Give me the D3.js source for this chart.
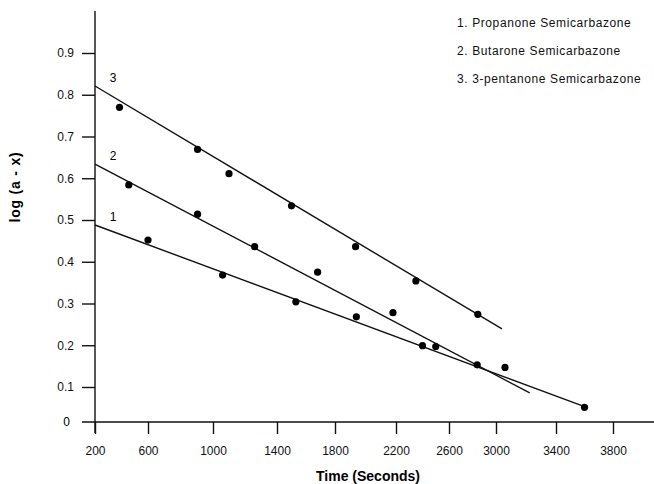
<!DOCTYPE html>
<html>
<head>
<meta charset="utf-8">
<script src="https://cdn.jsdelivr.net/npm/d3@7"></script>
<style>
  body { margin: 0; background: #fff; }
  svg { display: block; font-family: "Liberation Sans", Arial, sans-serif; }
  .axis text { font-size: 12px; fill: #111; }
  .axis line { stroke: #111; stroke-width: 1.4; }
</style>
</head>
<body>
<div id="chart"></div>
<script>
// tick labels
const xTicks = [200, 600, 1000, 1400, 1800, 2200, 2600, 3000, 3400, 3800];
const yTicks = [0, 0.1, 0.2, 0.3, 0.4, 0.5, 0.6, 0.7, 0.8, 0.9];

// measured points (time in s, log(a - x))
const s1Time = [600, 1060, 1530, 1940, 2400, 2840, 3600];
const s1Log  = [0.452, 0.368, 0.304, 0.268, 0.199, 0.153, 0.042];
const s2Time = [455, 905, 1260, 1680, 2180, 2500, 3060];
const s2Log  = [0.584, 0.514, 0.436, 0.375, 0.278, 0.197, 0.147];
const s3Time = [385, 905, 1100, 1500, 1935, 2350, 2845];
const s3Log  = [0.770, 0.669, 0.611, 0.534, 0.436, 0.354, 0.274];

// fitted straight lines (start / end)
const fitTime = [[200, 3605], [200, 3225], [200, 3040]];
const fitLog  = [[0.488, 0.043], [0.634, 0.083], [0.821, 0.239]];

const seriesNames = ["1. Propanone Semicarbazone", "2. Butarone Semicarbazone", "3. 3-pentanone Semicarbazone"];

const W = 654, H = 484;

const svg = d3.select("#chart").append("svg")
    .attr("width", W)
    .attr("height", H);

// the printed time axis is not evenly spaced, so the scale follows its ticks
const x = d3.scaleLinear()
    .domain(xTicks)
    .range([95, 148, 213, 277, 335, 396, 449, 496, 556, 613]);
const y = d3.scaleLinear()
    .domain([0, 0.1, 0.9])
    .range([422, 387, 53]);

// axes
const yAxis = svg.append("g")
    .attr("class", "axis")
    .attr("transform", "translate(" + x(200) + ",0)")
    .call(d3.axisLeft(y).tickValues(yTicks.filter(d => d > 0)).tickSizeInner(13).tickSizeOuter(0).tickPadding(8)
        .tickFormat(d3.format(".1f")));
yAxis.select(".domain").remove();
yAxis.append("line").attr("x1", 0).attr("x2", 0).attr("y1", 11).attr("y2", 433);
svg.append("text")
    .attr("x", 70).attr("y", y(0))
    .attr("dy", "0.35em")
    .attr("text-anchor", "end")
    .attr("font-size", "12px")
    .text("0");

const xAxis = svg.append("g")
    .attr("class", "axis")
    .attr("transform", "translate(0," + y(0) + ")")
    .call(d3.axisBottom(x).tickValues(xTicks).tickSizeInner(12).tickSizeOuter(0).tickPadding(12)
        .tickFormat(d3.format("d")));
xAxis.select(".domain").remove();
xAxis.append("line").attr("x1", 82).attr("x2", W).attr("y1", 0).attr("y2", 0);

// axis titles
svg.append("text")
    .attr("x", 368).attr("y", 481)
    .attr("text-anchor", "middle")
    .attr("font-size", "14px")
    .attr("font-weight", "bold")
    .text("Time (Seconds)");
svg.append("text")
    .attr("transform", "translate(20,187) rotate(-90)")
    .attr("text-anchor", "middle")
    .attr("font-size", "14px")
    .attr("font-weight", "bold")
    .attr("letter-spacing", "0.8px")
    .text("log (a - x)");

// fitted lines with their numbers
const line = d3.line()
    .x(d => x(d[0]))
    .y(d => y(d[1]));

fitTime.forEach(function(t, i) {
    const pts = t.map((v, j) => [v, fitLog[i][j]]);
    svg.append("path")
        .attr("d", line(pts))
        .attr("fill", "none")
        .attr("stroke", "#111")
        .attr("stroke-width", 1.4);
    svg.append("text")
        .attr("x", x(t[0]) + 18)
        .attr("y", y(fitLog[i][0]) - 4)
        .attr("text-anchor", "middle")
        .attr("font-size", "12px")
        .text(i + 1);
});

// points
[[s1Time, s1Log], [s2Time, s2Log], [s3Time, s3Log]].forEach(function(s) {
    svg.append("g").selectAll("circle")
        .data(s[0].map((t, j) => [t, s[1][j]]))
        .join("circle")
        .attr("cx", d => x(d[0]))
        .attr("cy", d => y(d[1]))
        .attr("r", 3.6)
        .attr("fill", "#000");
});

// legend
svg.append("g").selectAll("text")
    .data(seriesNames)
    .join("text")
    .attr("x", 457)
    .attr("y", (d, i) => 27 + i * 28)
    .attr("font-size", "12px")
    .attr("letter-spacing", "0.6px")
    .attr("fill", "#111")
    .text(d => d);
</script>
</body>
</html>
